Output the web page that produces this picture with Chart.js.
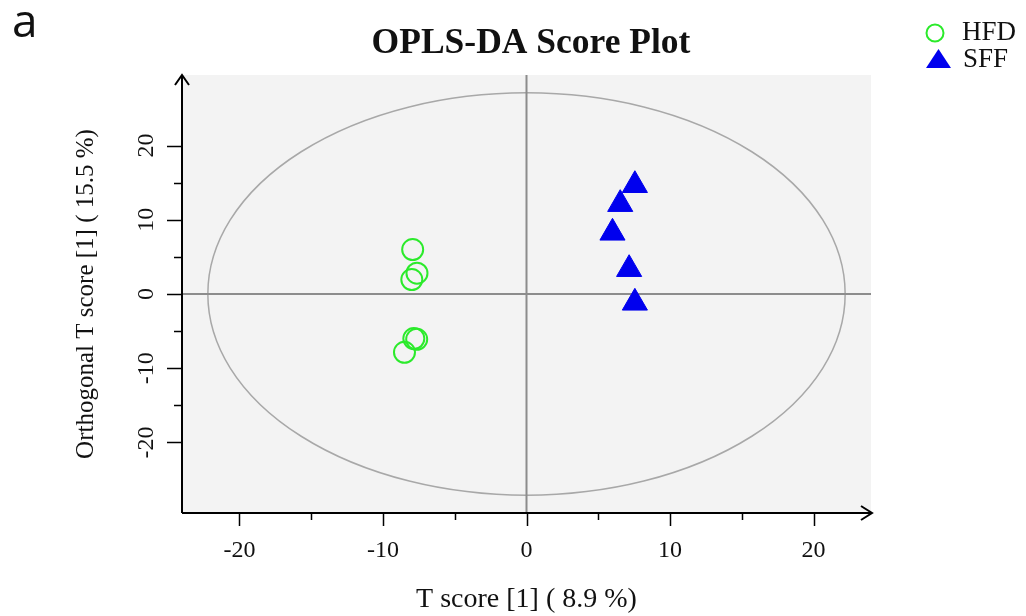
<!DOCTYPE html>
<html>
<head>
<meta charset="utf-8">
<title>OPLS-DA Score Plot</title>
<script src="https://cdn.jsdelivr.net/npm/chart.js@4.4.1/dist/chart.umd.min.js"></script>
<style>
  html, body { margin: 0; padding: 0; background: #fff; }
  #wrap { width: 1026px; height: 616px; }
</style>
</head>
<body>
<div id="wrap"><canvas id="scorePlot" width="1026" height="616"></canvas></div>
<script>
// Datos
const groups = ['HFD', 'SFF'];
const hfdT = [-7.93, -7.63, -7.99, -7.85, -7.65, -8.5];
const hfdOrtho = [5.99, 2.8, 1.95, -6.0, -6.1, -7.85];
const sffT = [7.55, 6.53, 5.99, 7.15, 7.55];
const sffOrtho = [14.65, 12.1, 8.24, 3.34, -1.19];
const xTicks = [-20, -10, 0, 10, 20];
const yTicks = [-20, -10, 0, 10, 20];
const minorStep = 5;
const xRange = [-24, 24];
const yRange = [-29.5, 29.5];
const ellipseRadius = [22.2, 27.1]; // elipse T2 de Hotelling

const green = '#2bea2b';
const blue = '#0000ee';
const serif = '"Liberation Serif", "Times New Roman", serif';

function toPoints(xs, ys) {
    return xs.map((v, i) => ({ x: v, y: ys[i] }));
}

// Fondo, elipse, ejes y textos
const decor = {
    id: 'decor',
    beforeDatasetsDraw(chart) {
        const { ctx, chartArea: a, scales: { x, y } } = chart;
        ctx.save();
        ctx.fillStyle = '#f3f3f3';
        ctx.fillRect(a.left, a.top, a.right - a.left, a.bottom - a.top);

        const cx = x.getPixelForValue(0), cy = y.getPixelForValue(0);
        const rx = x.getPixelForValue(ellipseRadius[0]) - cx;
        const ry = cy - y.getPixelForValue(ellipseRadius[1]);
        ctx.strokeStyle = '#a8a8a8';
        ctx.lineWidth = 1.5;
        ctx.beginPath();
        ctx.ellipse(cx, cy, rx, ry, 0, 0, 2 * Math.PI);
        ctx.stroke();

        ctx.strokeStyle = '#8c8c8c';
        ctx.lineWidth = 2;
        ctx.beginPath();
        ctx.moveTo(a.left, cy); ctx.lineTo(a.right, cy);
        ctx.moveTo(cx, a.top); ctx.lineTo(cx, a.bottom);
        ctx.stroke();
        ctx.restore();
    },
    afterDraw(chart) {
        const { ctx, chartArea: a, scales: { x, y } } = chart;
        ctx.save();
        ctx.strokeStyle = '#000';
        ctx.lineWidth = 2;
        ctx.beginPath();
        // eje x con flecha
        ctx.moveTo(a.left, a.bottom); ctx.lineTo(a.right + 1, a.bottom);
        ctx.moveTo(a.right - 10, a.bottom - 7); ctx.lineTo(a.right + 1, a.bottom); ctx.lineTo(a.right - 10, a.bottom + 7);
        // eje y con flecha
        ctx.moveTo(a.left, a.bottom); ctx.lineTo(a.left, a.top);
        ctx.moveTo(a.left - 7, a.top + 10); ctx.lineTo(a.left, a.top); ctx.lineTo(a.left + 7, a.top + 10);
        ctx.stroke();

        // marcas
        ctx.lineWidth = 1.5;
        ctx.beginPath();
        for (let v = xTicks[0]; v <= xTicks[xTicks.length - 1]; v += minorStep) {
            const px = Math.round(x.getPixelForValue(v)) + 0.5;
            const len = v % 10 === 0 ? 13 : 7;
            ctx.moveTo(px, a.bottom); ctx.lineTo(px, a.bottom + len);
        }
        for (let v = yTicks[0]; v <= yTicks[yTicks.length - 1]; v += minorStep) {
            const py = Math.round(y.getPixelForValue(v)) + 0.5;
            const len = v % 10 === 0 ? 15 : 8;
            ctx.moveTo(a.left, py); ctx.lineTo(a.left - len, py);
        }
        ctx.stroke();

        ctx.fillStyle = '#111';
        ctx.font = '24px ' + serif;
        ctx.textAlign = 'center';
        ctx.textBaseline = 'middle';
        xTicks.forEach(v => ctx.fillText(String(v), x.getPixelForValue(v), 551));
        yTicks.forEach(v => {
            ctx.save();
            ctx.translate(147, y.getPixelForValue(v));
            ctx.rotate(-Math.PI / 2);
            ctx.fillText(String(v), 0, 0);
            ctx.restore();
        });

        // títulos de ejes
        ctx.font = '28px ' + serif;
        ctx.fillText('T score [1] ( 8.9 %)', (a.left + a.right) / 2, 600);
        ctx.font = '25px ' + serif;
        ctx.save();
        ctx.translate(86, (a.top + a.bottom) / 2);
        ctx.rotate(-Math.PI / 2);
        ctx.fillText('Orthogonal T score [1] ( 15.5 %)', 0, 0);
        ctx.restore();

        // título principal
        ctx.font = 'bold 35.5px ' + serif;
        ctx.textBaseline = 'alphabetic';
        ctx.fillText('OPLS-DA Score Plot', 531, 53);

        ctx.font = '46px "Open Sans", sans-serif';
        ctx.textAlign = 'left';
        ctx.fillText('a', 12, 37);

        // leyenda
        ctx.strokeStyle = green;
        ctx.lineWidth = 2;
        ctx.beginPath();
        ctx.arc(935, 33, 8.5, 0, 2 * Math.PI);
        ctx.stroke();
        ctx.fillStyle = blue;
        ctx.beginPath();
        ctx.moveTo(938.5, 49); ctx.lineTo(951, 68); ctx.lineTo(926, 68);
        ctx.closePath();
        ctx.fill();
        ctx.fillStyle = '#111';
        ctx.font = '27px ' + serif;
        ctx.textBaseline = 'middle';
        ctx.fillText(groups[0], 962, 33);
        ctx.fillText(groups[1], 963, 60);
        ctx.restore();
    }
};

const ctx = document.getElementById('scorePlot').getContext('2d');
new Chart(ctx, {
    type: 'scatter',
    data: {
        datasets: [{
            label: groups[0],
            data: toPoints(hfdT, hfdOrtho),
            pointStyle: 'circle',
            pointRadius: 10.5,
            borderWidth: 2,
            borderColor: green,
            backgroundColor: 'rgba(0,0,0,0)'
        }, {
            label: groups[1],
            data: toPoints(sffT, sffOrtho),
            pointStyle: 'triangle',
            pointRadius: 14.5,
            borderWidth: 1,
            borderColor: blue,
            backgroundColor: blue
        }]
    },
    options: {
        responsive: false,
        devicePixelRatio: 1,
        animation: false,
        layout: { padding: { left: 182, right: 155, top: 75, bottom: 103 } },
        scales: {
            x: { type: 'linear', min: xRange[0], max: xRange[1], display: false },
            y: { type: 'linear', min: yRange[0], max: yRange[1], display: false }
        },
        plugins: { legend: { display: false }, tooltip: { enabled: false } }
    },
    plugins: [decor]
});
</script>
</body>
</html>
